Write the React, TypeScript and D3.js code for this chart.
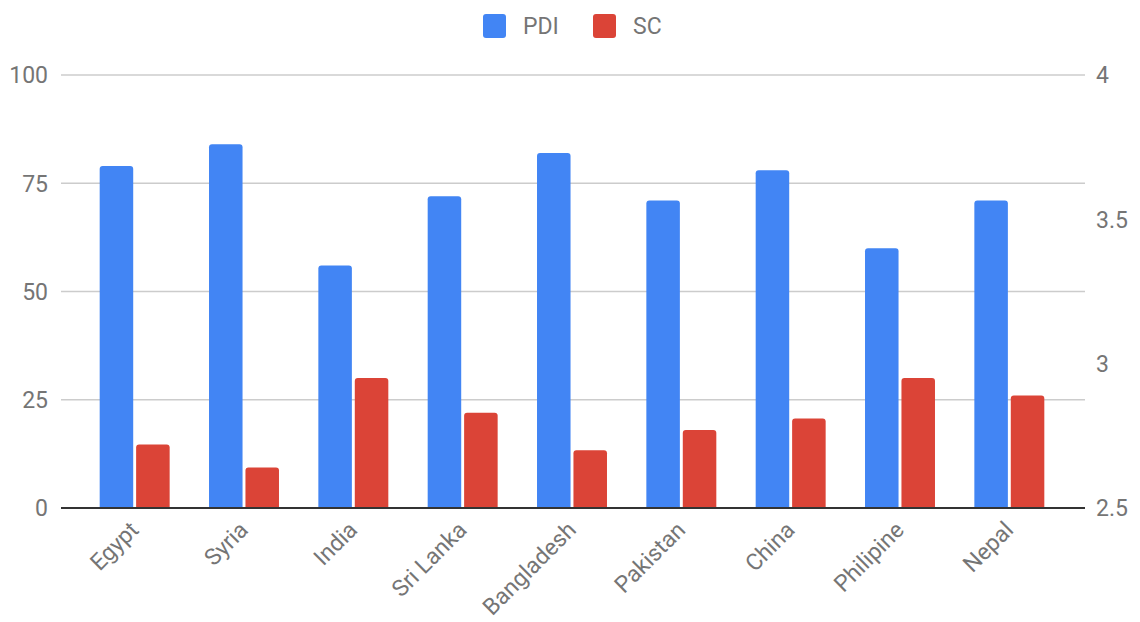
import React, { useEffect, useRef } from "react";
import * as d3 from "d3";

const countries = ["Egypt", "Syria", "India", "Sri Lanka", "Bangladesh", "Pakistan", "China", "Philipine", "Nepal"];
const pdiValues = [79, 84, 56, 72, 82, 71, 78, 60, 71];
const scValues = [2.72, 2.64, 2.95, 2.83, 2.7, 2.77, 2.81, 2.95, 2.89];
const leftTicks = [0, 25, 50, 75, 100];
const rightTicks = [2.5, 3, 3.5, 4];
const seriesNames = ["PDI", "SC"];
const seriesColors = ["#4285F4", "#DB4437"];

const W = 1140;
const H = 622;
const FONT = "Roboto, 'Noto Sans', sans-serif";
const FS = "23px";

// bar with rounded top corners
function barPath(x: number, y: number, w: number, h: number, r: number) {
  const rr = Math.min(r, h / 2, w / 2);
  return `M${x},${y + h}V${y + rr}Q${x},${y} ${x + rr},${y}H${x + w - rr}Q${x + w},${y} ${x + w},${y + rr}V${y + h}Z`;
}

export default function App() {
  const svgRef = useRef<SVGSVGElement>(null);

  useEffect(() => {
    const svg = d3.select(svgRef.current);
    svg.selectAll("*").remove();

    const gridLeft = 61;
    const gridRight = 1085;
    const top = 75;
    const bottom = 508;

    const x = d3.scaleBand<string>().domain(countries).range([80, 1064]).paddingInner(0.36).paddingOuter(0.18);
    const xs = d3.scaleBand<string>().domain(seriesNames).range([0, x.bandwidth()]).paddingInner(0.08);
    const yL = d3.scaleLinear().domain([0, 100]).range([bottom, top]);
    const yR = d3.scaleLinear().domain([2.5, 4]).range([bottom, top]);

    // gridlines
    svg.append("g")
      .selectAll("line")
      .data(leftTicks.filter((d) => d !== 0))
      .enter()
      .append("line")
      .attr("x1", gridLeft)
      .attr("x2", gridRight)
      .attr("y1", (d) => yL(d))
      .attr("y2", (d) => yL(d))
      .style("stroke", "#cccccc")
      .style("stroke-width", 1.5);

    // left tick labels
    svg.append("g")
      .selectAll("text")
      .data(leftTicks)
      .enter()
      .append("text")
      .text((d) => d)
      .attr("x", 48)
      .attr("y", (d) => yL(d))
      .attr("dy", "0.36em")
      .attr("text-anchor", "end")
      .style("font-family", FONT)
      .style("font-size", FS)
      .style("fill", "#757575");

    // right tick labels
    svg.append("g")
      .selectAll("text")
      .data(rightTicks)
      .enter()
      .append("text")
      .text((d) => d)
      .attr("x", 1096)
      .attr("y", (d) => yR(d))
      .attr("dy", "0.36em")
      .attr("text-anchor", "start")
      .style("font-family", FONT)
      .style("font-size", FS)
      .style("fill", "#757575");

    // bars
    const groups = svg.append("g")
      .selectAll("g")
      .data(countries)
      .enter()
      .append("g")
      .attr("transform", (d) => `translate(${x(d)},0)`);

    groups.append("path")
      .attr("d", (d, i) => {
        const yy = yL(pdiValues[i]);
        return barPath(xs("PDI") as number, yy, xs.bandwidth(), bottom - yy, 3);
      })
      .style("fill", seriesColors[0]);

    groups.append("path")
      .attr("d", (d, i) => {
        const yy = yR(scValues[i]);
        return barPath(xs("SC") as number, yy, xs.bandwidth(), bottom - yy, 3);
      })
      .style("fill", seriesColors[1]);

    // baseline
    svg.append("line")
      .attr("x1", gridLeft)
      .attr("x2", gridRight)
      .attr("y1", bottom)
      .attr("y2", bottom)
      .style("stroke", "#333333")
      .style("stroke-width", 2);

    // x labels, rotated
    svg.append("g")
      .selectAll("text")
      .data(countries)
      .enter()
      .append("text")
      .text((d) => d)
      .attr("transform", (d) => `translate(${(x(d) as number) + x.bandwidth() / 2 - 6},${bottom + 12}) rotate(-45)`)
      .attr("text-anchor", "end")
      .attr("dy", "0.7em")
      .style("font-family", FONT)
      .style("font-size", FS)
      .style("fill", "#757575");

    // legend
    const legend = svg.append("g");
    const legendX = [483, 593];
    seriesNames.forEach((name, i) => {
      legend.append("rect")
        .attr("x", legendX[i])
        .attr("y", 14)
        .attr("width", 23)
        .attr("height", 24)
        .attr("rx", 3)
        .style("fill", seriesColors[i]);
      legend.append("text")
        .text(name)
        .attr("x", legendX[i] + 40)
        .attr("y", 26)
        .attr("dy", "0.36em")
        .style("font-family", FONT)
        .style("font-size", FS)
        .style("fill", "#757575");
    });
  }, []);

  return (
    <svg
      ref={svgRef}
      width={W}
      height={H}
      style={{ position: "absolute", left: 0, top: 0, background: "#ffffff" }}
    ></svg>
  );
}
